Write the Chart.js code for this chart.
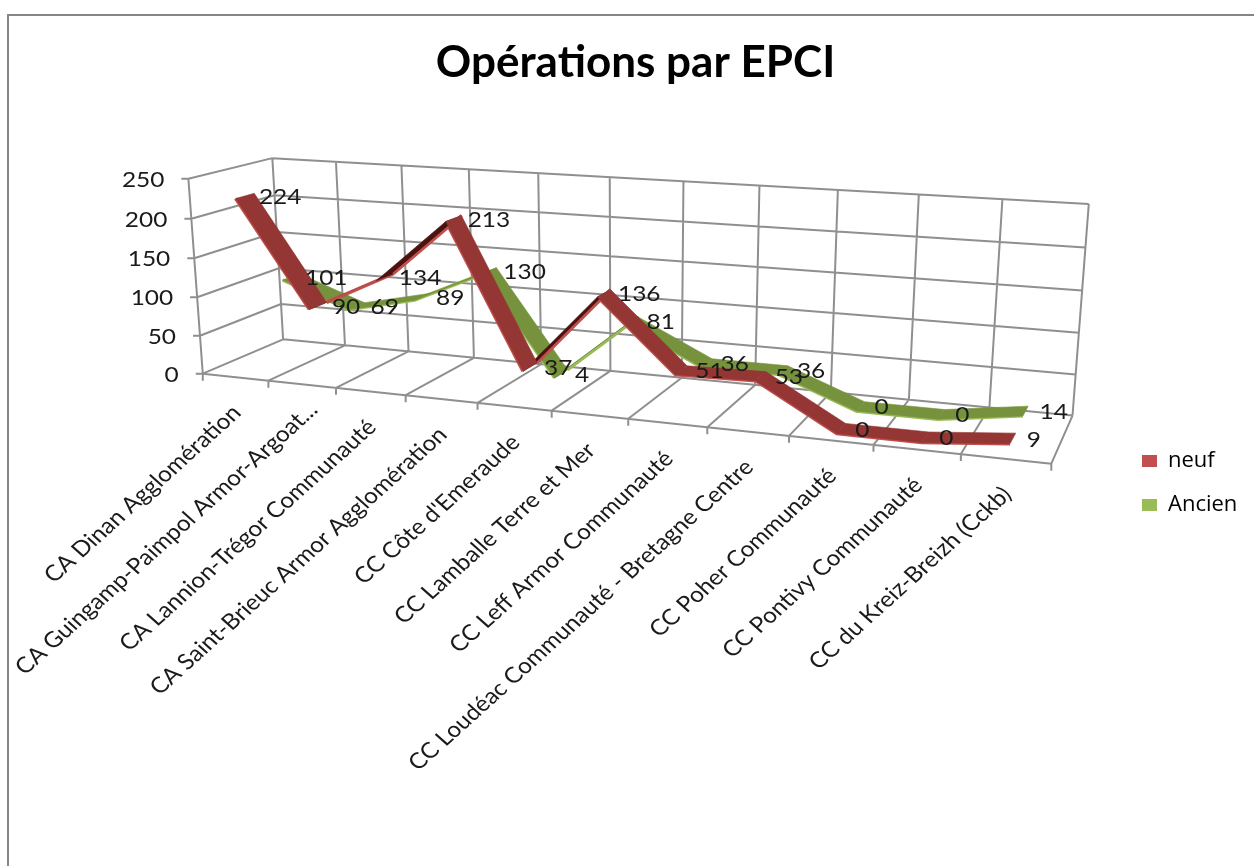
<!DOCTYPE html>
<html lang="fr">
<head>
<meta charset="utf-8">
<title>Opérations par EPCI</title>
<script src="https://cdn.jsdelivr.net/npm/chart.js@4/dist/chart.umd.js"></script>
<style>
  html, body { margin: 0; padding: 0; background: #fff; }
  #frame { position: absolute; left: 7px; top: 14px; right: 0; bottom: 0; border-left: 2px solid #868686; border-top: 2px solid #868686; }
  #chart { position: absolute; left: 0; top: 0; filter: blur(0.45px); }
</style>
</head>
<body>
<div id="frame"></div>
<canvas id="chart" width="1254" height="866"></canvas>
<script>
// Chart data
const categories = [
  'CA Dinan Agglomération',
  'CA Guingamp-Paimpol Armor-Argoat...',
  'CA Lannion-Trégor Communauté',
  'CA Saint-Brieuc Armor Agglomération',
  "CC Côte d'Emeraude",
  'CC Lamballe Terre et Mer',
  'CC Leff Armor Communauté',
  'CC Loudéac Communauté - Bretagne Centre',
  'CC Poher Communauté',
  'CC Pontivy Communauté',
  'CC du Kreiz-Breizh (Cckb)'
];
const neuf = [224, 90, 134, 213, 37, 136, 51, 53, 0, 0, 9];
const ancien = [101, 69, 89, 130, 4, 81, 36, 36, 0, 0, 14];
const yTicks = [0, 50, 100, 150, 200, 250];
const yMax = 250;

// Where the corners and ticks of the 3D box sit in the picture
const frontFloorX = [203, 269, 337, 406, 478, 551, 628, 707, 788, 873, 960, 1053];
const backFloorX = [283, 345, 408, 474, 540, 610, 683, 757, 830, 908, 990, 1073];
const backTopX = [272, 337, 402, 469, 539, 610, 684, 760, 837, 918, 1003, 1089];
const leftFront = [[203, 373], [200, 335], [197, 297], [194, 258], [191, 219], [188, 179]];
const leftBack = [[283, 340], [281, 303], [279, 268], [276, 232], [274, 197], [272, 158]];
const rightBack = [[1073, 415], [1075, 374], [1078, 333], [1082, 290], [1085, 247], [1089, 204]];

const TEXT_STRETCH = 1.11;
const TEXT_FONT = '22px Lato';
const TEXT_COLOR = '#1a1a1a';

/**
 * Fit a projective camera (u, v, w) -> (x, y) on the measured anchors
 */
function fitProjection(anchors) {
  const rows = [];
  anchors.forEach(([u, v, w, x, y]) => {
    rows.push([u, v, w, 1, 0, 0, 0, 0, -x * u, -x * v, -x * w, x]);
    rows.push([0, 0, 0, 0, u, v, w, 1, -y * u, -y * v, -y * w, y]);
  });
  const n = 11;
  const m = [];
  for (let i = 0; i < n; i++) {
    m[i] = [];
    for (let j = 0; j <= n; j++) {
      m[i][j] = rows.reduce((sum, r) => sum + r[i] * r[j], 0);
    }
  }
  for (let i = 0; i < n; i++) {
    let pivot = i;
    for (let k = i + 1; k < n; k++) {
      if (Math.abs(m[k][i]) > Math.abs(m[pivot][i])) pivot = k;
    }
    [m[i], m[pivot]] = [m[pivot], m[i]];
    for (let k = 0; k < n; k++) {
      if (k === i) continue;
      const f = m[k][i] / m[i][i];
      for (let j = i; j <= n; j++) m[k][j] -= f * m[i][j];
    }
  }
  const c = m.map((row, i) => row[n] / row[i]);
  return function (u, v, w) {
    const d = c[8] * u + c[9] * v + c[10] * w + 1;
    return {
      x: (c[0] * u + c[1] * v + c[2] * w + c[3]) / d,
      y: (c[4] * u + c[5] * v + c[6] * w + c[7]) / d
    };
  };
}

const anchors = [];
frontFloorX.forEach((x, k) => anchors.push([k / 11, 0, 0, x, 373 + (x - 203) * 0.1082]));
backFloorX.forEach((x, k) => anchors.push([k / 11, 0, 1, x, 340 + (x - 283) * 0.0949]));
backTopX.forEach((x, k) => anchors.push([k / 11, 1, 1, x, 158 + (x - 272) * 0.0563]));
leftFront.forEach((p, k) => anchors.push([0, k / 5, 0, p[0], p[1]]));
leftBack.forEach((p, k) => anchors.push([0, k / 5, 1, p[0], p[1]]));
rightBack.forEach((p, k) => anchors.push([1, k / 5, 1, p[0], p[1]]));
const project = fitProjection(anchors);

const GAP = { x: NaN, y: NaN };

function gridPoints() {
  const pts = [];
  const line = (a, b) => pts.push(a, b, GAP);
  yTicks.forEach(t => {
    const v = t / yMax;
    line(project(0, v, 0), project(0, v, 1));
    line(project(0, v, 1), project(1, v, 1));
    // tick on the left wall
    const p = project(0, v, 0);
    line(p, { x: p.x - 7, y: p.y });
  });
  line(project(0, 0, 0), project(0, 1, 0));
  line(project(0, 0, 0), project(1, 0, 0));
  for (let k = 0; k <= 11; k++) {
    const u = k / 11;
    line(project(u, 0, 1), project(u, 1, 1));
    line(project(u, 0, 0), project(u, 0, 1));
    // tick under the floor
    const p = project(u, 0, 0);
    line(p, { x: p.x, y: p.y + 7 });
  }
  return pts;
}

function ribbonEdge(values, w) {
  return values.map((val, i) => project((i + 0.5) / 11, val / yMax, w));
}

// A segment faces up when its quad winds the same way as a flat one
function isUnderside(front, back, i) {
  const sx = front[i + 1].x - front[i].x;
  const sy = front[i + 1].y - front[i].y;
  const dx = back[i].x - front[i].x + back[i + 1].x - front[i + 1].x;
  const dy = back[i].y - front[i].y + back[i + 1].y - front[i + 1].y;
  return sx * dy - sy * dx > 0;
}

function ribbonDatasets(label, values, wFront, wBack, order, edgeColor, faceColor, underColor) {
  const front = ribbonEdge(values, wFront);
  const back = ribbonEdge(values, wBack);
  return [
    {
      label: label,
      data: front,
      order: order,
      showLine: true,
      pointRadius: 0,
      borderWidth: 3.4,
      borderColor: edgeColor,
      backgroundColor: edgeColor,
      clip: false,
      segment: {
        borderColor: ctx => isUnderside(front, back, ctx.p0DataIndex) ? 'transparent' : edgeColor
      },
      ribbon: { values, edgeColor, faceColor, underColor, front, back }
    },
    {
      data: back,
      order: order,
      showLine: true,
      pointRadius: 0,
      borderWidth: 3.4,
      borderColor: edgeColor,
      clip: false,
      segment: {
        borderColor: ctx => isUnderside(front, back, ctx.p0DataIndex) ? edgeColor : 'transparent'
      }
    }
  ];
}

function stretchedText(ctx, text, x, y, align, angle) {
  ctx.save();
  ctx.translate(x, y);
  ctx.scale(TEXT_STRETCH, 1);
  ctx.rotate(-(angle || 0));
  ctx.font = TEXT_FONT;
  ctx.fillStyle = TEXT_COLOR;
  ctx.textAlign = align;
  ctx.textBaseline = 'middle';
  ctx.fillText(text, 0, 0);
  ctx.restore();
}

// Maps the hidden axes one to one on the pixels and places title and legend
const boxPlugin = {
  id: 'boxPlugin',
  afterLayout(chart) {
    const area = chart.chartArea;
    const { x, y } = chart.scales;
    x.min = area.left;
    x.max = area.right;
    x.configure();
    y.min = area.top;
    y.max = area.bottom;
    y.configure();
    chart.titleBlock.left = 17;
    chart.titleBlock.top = 36;
    chart.legend.left = 1120;
    chart.legend.top = 428;
  },
  // Faces of the ribbons, read from the line elements
  afterDatasetDraw(chart, args) {
    const ribbon = chart.data.datasets[args.index].ribbon;
    if (!ribbon) return;
    const ctx = chart.ctx;
    const front = chart.getDatasetMeta(args.index).data;
    const back = chart.getDatasetMeta(args.index + 1).data;
    const quad = i => {
      ctx.beginPath();
      ctx.moveTo(front[i].x, front[i].y);
      ctx.lineTo(front[i + 1].x, front[i + 1].y);
      ctx.lineTo(back[i + 1].x, back[i + 1].y);
      ctx.lineTo(back[i].x, back[i].y);
      ctx.closePath();
      ctx.fill();
      ctx.stroke();
    };
    ctx.save();
    ctx.lineJoin = 'round';
    const last = ribbon.values.length - 1;
    for (let pass = 0; pass < 2; pass++) {
      for (let i = 0; i < last; i++) {
        const under = isUnderside(ribbon.front, ribbon.back, i);
        if (under !== (pass === 0)) continue;
        ctx.lineWidth = 0.6;
        ctx.fillStyle = ctx.strokeStyle = under ? ribbon.underColor : ribbon.faceColor;
        quad(i);
        if (under) {
          // lit rim of a rising segment
          ctx.lineWidth = 2;
          ctx.strokeStyle = ribbon.edgeColor;
          ctx.beginPath();
          ctx.moveTo(back[i].x, back[i].y);
          ctx.lineTo(back[i + 1].x, back[i + 1].y);
          ctx.stroke();
        }
      }
    }
    ctx.restore();
  },
  afterDatasetsDraw(chart) {
    const ctx = chart.ctx;
    const { x, y } = chart.scales;
    // Value axis labels
    yTicks.forEach(t => {
      const p = project(0, t / yMax, 0);
      stretchedText(ctx, String(t), x.getPixelForValue(p.x) - 24, y.getPixelForValue(p.y) + 1, 'right');
    });
    // Category labels, the cut one runs a bit further up
    categories.forEach((name, i) => {
      const p = project((i + 0.5) / 11, 0, 0);
      const cut = name.endsWith('...') ? 10 : 0;
      stretchedText(ctx, name, x.getPixelForValue(p.x) + 1.5 + cut, y.getPixelForValue(p.y) + 32 - cut, 'right', Math.PI / 4);
    });
    // Value labels of the series
    chart.data.datasets.forEach((ds, index) => {
      if (!ds.ribbon) return;
      const front = chart.getDatasetMeta(index).data;
      const back = chart.getDatasetMeta(index + 1).data;
      ds.ribbon.values.forEach((val, i) => {
        const mx = (front[i].x + back[i].x) / 2;
        const my = (front[i].y + back[i].y) / 2;
        stretchedText(ctx, String(val), mx + 14, my + 1, 'left');
      });
    });
  }
};

new Chart(document.getElementById('chart'), {
  type: 'scatter',
  data: {
    datasets: [
      ...ribbonDatasets('neuf', neuf, 0.14, 0.36, 1, '#c0504d', '#943634', '#4a1210'),
      ...ribbonDatasets('Ancien', ancien, 0.64, 0.86, 2, '#9bbb59', '#76923c', '#4f6228'),
      {
        data: gridPoints(),
        order: 3,
        showLine: true,
        spanGaps: false,
        pointRadius: 0,
        borderWidth: 2,
        borderColor: '#8f8f8f',
        clip: false
      }
    ]
  },
  options: {
    responsive: false,
    animation: false,
    scales: {
      x: { type: 'linear', display: false, min: 0, max: 1254 },
      y: { type: 'linear', display: false, reverse: true, min: 0, max: 866 }
    },
    plugins: {
      tooltip: { enabled: false },
      title: {
        display: true,
        text: 'Opérations par EPCI',
        color: '#000',
        font: { family: 'Lato', size: 44, weight: 'bold' },
        padding: 0
      },
      legend: {
        position: 'right',
        align: 'start',
        labels: {
          filter: item => !!item.text,
          boxWidth: 15,
          boxHeight: 12,
          padding: 22,
          color: TEXT_COLOR,
          font: { family: 'Open Sans', size: 22 },
          generateLabels(chart) {
            return chart.data.datasets.map((ds, i) => ({
              text: ds.label,
              fillStyle: ds.backgroundColor,
              lineWidth: 0,
              strokeStyle: 'transparent',
              datasetIndex: i
            }));
          }
        }
      }
    }
  },
  plugins: [boxPlugin]
});
</script>
</body>
</html>
